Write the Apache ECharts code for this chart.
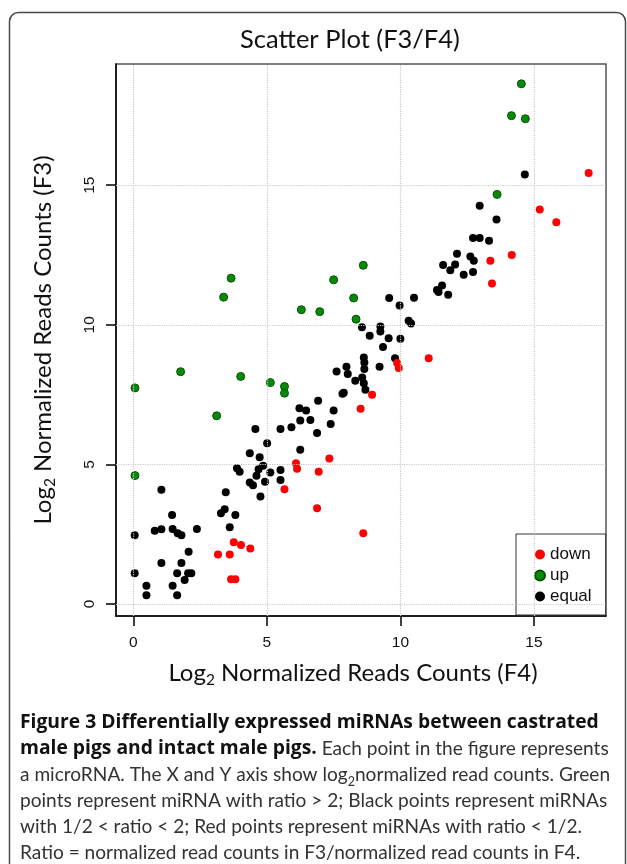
<!DOCTYPE html>
<html>
<head>
<meta charset="utf-8">
<title>Scatter Plot (F3/F4)</title>
<script src="https://cdn.jsdelivr.net/npm/echarts@6/dist/echarts.min.js"></script>
<style>
  html, body { margin: 0; padding: 0; background: #fff; }
  #main { width: 627px; height: 864px; }
</style>
</head>
<body>
<div id="main"></div>
<script>
// tick positions on both axes
const ticks = [0, 5, 10, 15];

// red: ratio < 1/2
const downF4 = [15.22, 15.84, 17.05, 13.37, 14.17, 13.43, 9.88, 9.94, 11.06, 8.94, 8.51, 7.34, 6.09, 6.13, 6.94, 5.66, 6.88, 8.61, 3.76, 4.03, 4.38, 3.17, 3.61, 3.66, 3.82];
const downF3 = [14.13, 13.67, 15.44, 12.29, 12.5, 11.48, 8.63, 8.45, 8.8, 7.49, 6.99, 5.21, 5.04, 4.84, 4.74, 4.11, 3.43, 2.53, 2.21, 2.11, 1.99, 1.77, 1.77, 0.89, 0.89];

// green: ratio > 2
const upF4 = [14.53, 14.16, 14.68, 13.62, 3.66, 3.38, 7.5, 8.61, 8.25, 6.29, 6.98, 8.34, 1.77, 4.02, 0.06, 5.13, 5.66, 5.66, 3.12, 0.06];
const upF3 = [18.63, 17.49, 17.38, 14.67, 11.67, 10.99, 11.61, 12.13, 10.96, 10.54, 10.47, 10.2, 8.32, 8.15, 7.74, 7.93, 7.79, 7.55, 6.74, 4.6];

// black: 1/2 < ratio < 2
const equalF4 = [14.66, 12.97, 13.6, 12.72, 12.97, 13.32, 12.12, 12.62, 12.75, 11.6, 12.05, 11.87, 12.37, 12.72, 11.56, 11.37, 11.43, 11.79,
  9.58, 9.97, 10.51, 10.31, 10.4, 8.56, 9.25, 9.25, 8.85, 9.56, 10.0, 9.35, 8.63, 8.65, 8.65, 9.8, 9.22, 7.98, 8.03, 7.61, 8.57, 8.31, 8.63, 8.69,
  7.88, 7.83, 6.92, 6.22, 6.47, 7.5, 6.25, 6.63, 7.39, 4.57, 5.51, 5.92, 6.88, 5.01, 6.25, 4.36, 4.73, 3.88, 3.98, 4.69, 4.86, 4.61, 5.13, 5.51,
  5.51, 4.93, 4.36, 4.48, 4.76, 3.46, 1.05, 3.42, 3.28, 3.82, 3.61, 1.45, 0.8, 1.05, 1.47, 1.66, 1.8, 2.38, 0.05, 2.07, 1.05, 1.8, 1.64, 2.05,
  2.17, 1.92, 0.05, 0.49, 1.47, 0.49, 1.64];
const equalF3 = [15.38, 14.26, 13.77, 13.11, 13.11, 13.01, 12.54, 12.45, 12.29, 12.14, 12.16, 11.95, 11.79, 11.89, 11.41, 11.25, 11.17, 11.08,
  10.96, 10.69, 10.97, 10.14, 10.05, 9.91, 9.94, 9.76, 9.61, 9.52, 9.5, 9.2, 8.83, 8.65, 8.42, 8.8, 8.5, 8.5, 8.24, 8.33, 8.11, 8.0, 7.91, 7.67,
  7.57, 7.53, 7.28, 7.01, 6.93, 6.93, 6.57, 6.59, 6.45, 6.27, 6.27, 6.33, 6.12, 5.76, 5.52, 5.4, 5.26, 4.86, 4.74, 4.83, 4.95, 4.59, 4.71, 4.8,
  4.44, 4.38, 4.35, 4.25, 3.85, 4.0, 4.09, 3.39, 3.25, 3.19, 2.75, 3.19, 2.62, 2.68, 2.69, 2.53, 2.46, 2.69, 2.46, 1.87, 1.47, 1.47, 1.1, 1.1,
  1.1, 0.86, 1.1, 0.65, 0.65, 0.31, 0.31];

function pairs(xs, ys) {
  return xs.map(function (x, i) { return [x, ys[i]]; });
}

window.onload = function () {
  let chart = echarts.init(document.getElementById('main'));

  let capRich = {
    b: { fontFamily: 'Open Sans', fontSize: 19.3, fontWeight: 'bold', fill: '#111', lineHeight: 26 },
    n: { fontFamily: 'Lato', fontSize: 19.1, fill: '#333', lineHeight: 26 },
    s: { fontFamily: 'Lato', fontSize: 12.5, fill: '#333', lineHeight: 26, verticalAlign: 'bottom' }
  };
  let captionLines = [
    '{b|Figure 3 Differentially expressed miRNAs between castrated}',
    '{b|male pigs and intact male pigs.}{n| Each point in the figure represents}',
    '{n|a microRNA. The X and Y axis show log}{s|2}{n|normalized read counts. Green}',
    '{n|points represent miRNA with ratio > 2; Black points represent miRNAs}',
    '{n|with 1/2 < ratio < 2; Red points represent miRNAs with ratio < 1/2.}',
    '{n|Ratio = normalized read counts in F3/normalized read counts in F4.}'
  ];

  let graphics = [
    {
      type: 'rect',
      shape: { x: 9.5, y: 12.5, width: 616, height: 900, r: 9 },
      style: { fill: 'none', stroke: '#4a4a4a', lineWidth: 1.5 },
      z: 0
    },
    {
      type: 'text',
      x: 350, y: 40,
      style: {
        text: 'Scatter Plot (F3/F4)',
        fontFamily: 'Lato', fontSize: 25.5, fill: '#111',
        align: 'center', verticalAlign: 'middle'
      }
    }
  ];
  captionLines.forEach(function (t, i) {
    graphics.push({
      type: 'text',
      x: 20, y: 723 + i * 26,
      style: { text: t, rich: capRich, align: 'left', verticalAlign: 'middle' }
    });
  });

  let nameRich = {
    n: { fontFamily: 'Lato', fontSize: 24, color: '#111', lineHeight: 30 },
    s: { fontFamily: 'Lato', fontSize: 15.5, color: '#111', lineHeight: 30, verticalAlign: 'bottom' }
  };

  let option = {
    animation: false,
    grid: { left: 116, top: 64, right: 21, bottom: 248, show: true, borderColor: '#555', borderWidth: 1.5, outerBoundsMode: 'none' },
    legend: {
      orient: 'vertical',
      left: 516, top: 534,
      padding: [12, 14, 10, 18],
      itemWidth: 10, itemHeight: 10, itemGap: 4,
      icon: 'circle',
      borderColor: '#333', borderWidth: 1,
      backgroundColor: '#fff',
      textStyle: { fontFamily: 'Liberation Sans', fontSize: 17, color: '#111', lineHeight: 15 },
      data: ['down', 'up', 'equal']
    },
    xAxis: {
      type: 'value',
      min: -0.65, max: 17.7,
      name: '{n|Log}{s|2}{n| Normalized Reads Counts (F4)}',
      nameLocation: 'middle', nameGap: 42,
      nameTextStyle: { rich: nameRich, padding: [0, 16, 0, 0] },
      axisLine: { show: true, onZero: false, lineStyle: { color: '#000', width: 1.5 } },
      axisTick: { show: true, length: 10, customValues: ticks, lineStyle: { color: '#000', width: 1.5 } },
      axisLabel: { customValues: ticks, margin: 19, fontFamily: 'Liberation Sans', fontSize: 15.5, color: '#111' },
      splitLine: { show: false }
    },
    yAxis: {
      type: 'value',
      min: -0.43, max: 19.34,
      name: '{n|Log}{s|2}{n| Normalized Reads Counts (F3)}',
      nameLocation: 'middle', nameGap: 58, nameRotate: 90,
      nameTextStyle: { rich: nameRich },
      axisLine: { show: true, onZero: false, lineStyle: { color: '#000', width: 1.5 } },
      axisTick: { show: true, length: 10, customValues: ticks, lineStyle: { color: '#000', width: 1.5 } },
      axisLabel: { customValues: ticks, rotate: 90, margin: 18, fontFamily: 'Liberation Sans', fontSize: 15.5, color: '#111' },
      splitLine: { show: false }
    },
    graphic: graphics,
    series: [
      {
        // dotted reference grid at the tick positions
        name: 'grid',
        type: 'scatter',
        data: [],
        z: 1,
        silent: true,
        markLine: {
          silent: true,
          symbol: 'none',
          label: { show: false },
          lineStyle: { color: '#c8c8c8', type: 'dotted', width: 1.2 },
          data: ticks.map(function (v) { return { xAxis: v }; })
            .concat(ticks.map(function (v) { return { yAxis: v }; }))
        }
      },
      {
        name: 'equal',
        type: 'scatter',
        symbol: 'circle',
        symbolSize: 8,
        z: 3,
        itemStyle: { color: '#000', opacity: 1 },
        data: pairs(equalF4, equalF3)
      },
      {
        name: 'up',
        type: 'scatter',
        symbol: 'circle',
        symbolSize: 8,
        z: 3,
        itemStyle: { color: '#0a8a0a', borderColor: '#035203', borderWidth: 1, opacity: 1 },
        data: pairs(upF4, upF3)
      },
      {
        name: 'down',
        type: 'scatter',
        symbol: 'circle',
        symbolSize: 8,
        z: 3,
        itemStyle: { color: '#ff0000', opacity: 1 },
        data: pairs(downF4, downF3)
      }
    ]
  };

  chart.setOption(option);
};
</script>
</body>
</html>
